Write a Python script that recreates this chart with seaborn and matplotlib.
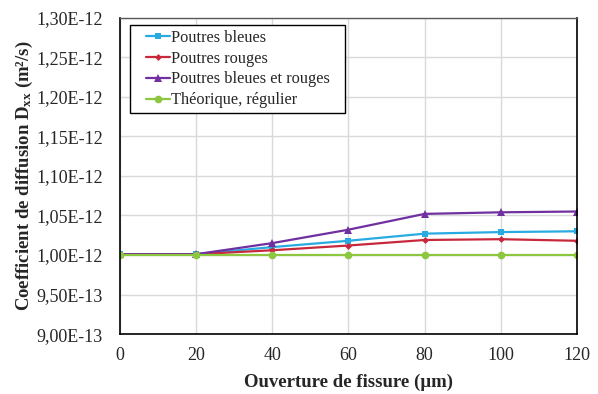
#!/usr/bin/env python3
# coding=utf-8
import numpy as np
import pandas as pd
import seaborn as sns
from matplotlib import pyplot as plt
from matplotlib.path import Path
from matplotlib.ticker import AutoMinorLocator, FuncFormatter

# crack opening (µm)
ouverture = [0, 20, 40, 60, 80, 100, 120]

# diffusion coefficient Dxx (in units of 1E-12 m²/s)
poutres_bleues = [1.001, 1.001, 1.010, 1.018, 1.027, 1.029, 1.030]
poutres_rouges = [1.001, 1.001, 1.006, 1.012, 1.019, 1.020, 1.018]
bleues_rouges = [1.001, 1.001, 1.015, 1.032, 1.052, 1.054, 1.055]
theorique = [1.0005, 1.0005, 1.0005, 1.0005, 1.0005, 1.0005, 1.0005]

series_names = ["Poutres bleues", "Poutres rouges",
                "Poutres bleues et rouges", "Théorique, régulier"]
colors = ["#29ABE2", "#C8283C", "#7030A0", "#8DC63F"]
markers = ["s", "D", "^", "o"]
msizes = [5, 3.5, 5.5, 5.5]

sns.set_style("white")
plt.rcParams["font.family"] = ["Liberation Serif", "DejaVu Serif"]
plt.rcParams["mathtext.fontset"] = "custom"
plt.rcParams["mathtext.rm"] = "Liberation Serif"
plt.rcParams["mathtext.bf"] = "Liberation Serif:bold"


def wide_box(x0, y0, width, height, mutation_size):
    """legend frame with extra horizontal padding (Excel-like)"""
    dx = 0.65 * mutation_size
    return Path([(x0 - dx, y0), (x0 + width + dx, y0),
                 (x0 + width + dx, y0 + height), (x0 - dx, y0 + height),
                 (x0 - dx, y0)], closed=True)


# long-form table
rows = []
for name, vals in zip(series_names,
                      [poutres_bleues, poutres_rouges, bleues_rouges, theorique]):
    for x, v in zip(ouverture, vals):
        rows.append({"x": x, "y": v * 1e-12, "serie": name})
df = pd.DataFrame(rows)

fig, ax = plt.subplots(figsize=(5.98, 3.94), dpi=100)
fig.subplots_adjust(left=0.2, right=0.965, top=0.955, bottom=0.152)

for name, c, m, ms in zip(series_names, colors, markers, msizes):
    sns.lineplot(data=df[df["serie"] == name], x="x", y="y", ax=ax,
                 color=c, marker=m, markersize=ms, markeredgewidth=0,
                 linewidth=1.6, label=name)

ax.set_xlim(0, 120)
ax.set_ylim(0.9e-12, 1.3e-12)
ax.set_xticks(np.arange(0, 121, 20))
ax.set_yticks(np.arange(0.9e-12, 1.3001e-12, 0.05e-12))
ax.yaxis.set_major_formatter(
    FuncFormatter(lambda v, p: f"{v:.2E}".replace(".", ",")))
ax.xaxis.set_minor_locator(AutoMinorLocator(5))
ax.yaxis.set_minor_locator(AutoMinorLocator(5))
ax.tick_params(which="both", direction="in", color="black",
               labelsize=13, top=False, right=False)
ax.tick_params(which="major", length=4, width=1)
ax.tick_params(which="minor", length=3, width=0.8)
ax.tick_params(axis="x", pad=9)
ax.tick_params(axis="y", pad=12)

ax.grid(True, which="major", color="#D9D9D9", linewidth=1)
ax.set_axisbelow(True)
for side in ["left", "bottom", "right"]:
    ax.spines[side].set_color("black")
    ax.spines[side].set_linewidth(1.2)
ax.spines["top"].set_color("#595959")
ax.spines["top"].set_linewidth(1.0)

ax.set_xlabel("Ouverture de fissure (µm)", fontsize=13.5, fontweight="bold",
              labelpad=7)
ax.set_ylabel(r"Coefficient de diffusion $\mathbf{D_{xx}}$ (m²/s)",
              fontsize=13.5, fontweight="bold", labelpad=1)

leg = ax.legend(loc="upper left", bbox_to_anchor=(0.046, 0.978),
                borderaxespad=0.0, fontsize=11.8,
                frameon=True, fancybox=False, edgecolor="black",
                framealpha=1, borderpad=0.3, labelspacing=0.3,
                handlelength=1.5, handletextpad=0.05)
leg.get_frame().set_linewidth(1.0)
leg.get_frame().set_boxstyle(wide_box)

plt.savefig("out.png", dpi=100)
